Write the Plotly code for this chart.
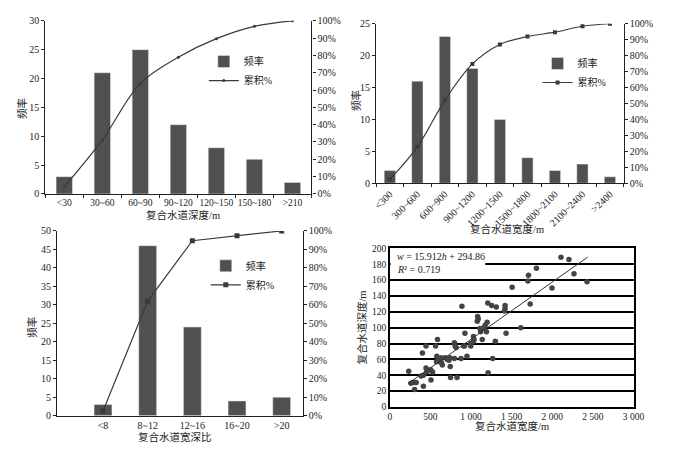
import plotly.graph_objects as go

# ---------------- data ----------------
depth_cats = ["<30", "30~60", "60~90", "90~120", "120~150", "150~180", ">210"]
depth_freq = [3, 21, 25, 12, 8, 6, 2]
depth_cum = [0.041, 0.312, 0.639, 0.79, 0.897, 0.968, 1.0]

width_cats = ["<300", "300~600", "600~900", "900~1200", "1200~1500",
              "1500~1800", "1800~2100", "2100~2400", ">2400"]
width_freq = [2, 16, 23, 18, 10, 4, 2, 3, 1]
width_cum = [0.024, 0.228, 0.52, 0.748, 0.87, 0.92, 0.947, 0.984, 1.0]

ratio_cats = ["<8", "8~12", "12~16", "16~20", ">20"]
ratio_freq = [3, 46, 24, 4, 5]
ratio_cum = [0.025, 0.62, 0.947, 0.974, 1.0]

scatter_w = [233, 260, 285, 310, 325, 305, 402, 414, 446, 386, 414, 446, 474, 503, 527,
             454, 507, 563, 587, 579, 595, 575, 615, 635, 647, 635, 684, 708, 728, 740,
             744, 748, 796, 796, 804, 816, 828, 877, 888, 909, 921, 925, 950, 997, 997,
             1029, 1037, 1029, 1081, 1089, 1077, 1110, 1118, 1138, 1158, 1174, 1190, 1198,
             1206, 1210, 1254, 1266, 1299, 1311, 1419, 1419, 1411, 1431, 1506, 1612, 1707,
             1700, 1728, 1805, 1997, 2107, 2205, 2267, 2428]
scatter_h = [45, 30, 31, 31, 31, 22, 68, 26, 77, 39, 40, 49, 46, 47, 44,
             44, 34, 77, 85, 64, 59, 57, 57, 56, 53, 62, 62, 60, 59, 62,
             51, 37, 61, 81, 77, 75, 37, 61, 127, 77, 77, 93, 64, 77, 80,
             89, 85, 83, 114, 111, 108, 99, 95, 85, 100, 103, 95, 107,
             131, 43, 128, 61, 83, 126, 128, 124, 121, 93, 151, 100, 166,
             159, 130, 175, 150, 189, 186, 168, 158]
trend_w = [225, 2436]
trend_h = [29.5, 189]

x4_tickvals = [0, 500, 1000, 1500, 2000, 2500, 3000]
x4_ticktext = ["0", "500", "1 000", "1 500", "2 000", "2 500", "3 000"]

# ---------------- styling ----------------
FONT = "Liberation Serif, Noto Sans CJK SC, serif"
BAR = "#505050"
LINE = "#3a3a3a"
OFF = 8            # page body margin
W, H = 676 - 2 * OFF, 455 - 2 * OFF


def px(x):
    return (x - OFF) / W


def py(y):
    return 1 - (y - OFF) / H


fig = go.Figure()

# Panel 1
fig.add_trace(go.Bar(x=depth_cats, y=depth_freq, width=0.43, marker_color=BAR,
                     name="频率", xaxis="x", yaxis="y", legend="legend"))
fig.add_trace(go.Scatter(x=depth_cats, y=depth_cum, mode="lines+markers", name="累积%",
                         line=dict(color=LINE, width=1.2, shape="spline"),
                         marker=dict(size=3, color=LINE),
                         xaxis="x", yaxis="y2", legend="legend"))
# Panel 2
fig.add_trace(go.Bar(x=width_cats, y=width_freq, width=0.41, marker_color=BAR,
                     name="频率", xaxis="x2", yaxis="y3", legend="legend2"))
fig.add_trace(go.Scatter(x=width_cats, y=width_cum, mode="lines+markers", name="累积%",
                         line=dict(color=LINE, width=1.2, shape="spline"),
                         marker=dict(size=4, color=LINE, symbol="square"),
                         xaxis="x2", yaxis="y4", legend="legend2"))
# Panel 3
fig.add_trace(go.Bar(x=ratio_cats, y=ratio_freq, width=0.4, marker_color=BAR,
                     name="频率", xaxis="x3", yaxis="y5", legend="legend3"))
fig.add_trace(go.Scatter(x=ratio_cats, y=ratio_cum, mode="lines+markers", name="累积%",
                         line=dict(color=LINE, width=1.2),
                         marker=dict(size=5, color=LINE, symbol="square"),
                         xaxis="x3", yaxis="y6", legend="legend3"))
# Panel 4
fig.add_trace(go.Scatter(x=scatter_w, y=scatter_h, mode="markers",
                         marker=dict(size=5.5, color="#444444"), showlegend=False,
                         xaxis="x4", yaxis="y7"))
fig.add_trace(go.Scatter(x=trend_w, y=trend_h, mode="lines",
                         line=dict(color="#333333", width=1), showlegend=False,
                         xaxis="x4", yaxis="y7"))

tickfont = dict(family=FONT, size=10, color="#222")
base_axis = dict(showgrid=False, zeroline=False, showline=True, linecolor="#222",
                 linewidth=1.2, ticks="outside", ticklen=3, tickcolor="#222",
                 tickfont=tickfont)

cat_axis = dict(base_axis, type="category", tickson="boundaries", ticklen=3)

fig.update_layout(
    width=W, height=H, margin=dict(l=0, r=0, t=0, b=0),
    paper_bgcolor="white", plot_bgcolor="white",
    font=dict(family=FONT, size=10, color="#222"),
    # panel 1
    xaxis=dict(cat_axis, domain=[px(43), px(315)], anchor="y", range=[-0.5, 6.5],
               tickangle=0, tickfont=dict(family=FONT, size=9.5, color="#222")),
    yaxis=dict(base_axis, domain=[py(193), py(15)], anchor="x", range=[0, 30], dtick=5),
    yaxis2=dict(base_axis, overlaying="y", side="right", anchor="x", range=[0, 1],
                dtick=0.1, tickformat=".0%"),
    # panel 2
    xaxis2=dict(cat_axis, domain=[px(381), px(634)], anchor="y3", range=[-0.5, 8.5],
                tickangle=-45),
    yaxis3=dict(base_axis, domain=[py(182), py(18)], anchor="x2", range=[0, 25], dtick=5),
    yaxis4=dict(base_axis, overlaying="y3", side="right", anchor="x2", range=[0, 1],
                dtick=0.1, tickformat=".0%"),
    # panel 3
    xaxis3=dict(base_axis, type="category", ticks="", domain=[px(55), px(306)],
                anchor="y5", range=[-1.03, 4.47], tickangle=0),
    yaxis5=dict(base_axis, domain=[py(421), py(231)], anchor="x3", range=[0, 50], dtick=5),
    yaxis6=dict(base_axis, overlaying="y5", side="right", anchor="x3", range=[0, 1],
                dtick=0.1, tickformat=".0%"),
    # panel 4
    xaxis4=dict(base_axis, domain=[px(395), px(644)], anchor="y7", range=[0, 3000],
                tickvals=x4_tickvals, ticktext=x4_ticktext, mirror=True, ticks="",
                linecolor="black", linewidth=1.5, tickfont=dict(family=FONT, size=9.5)),
    yaxis7=dict(base_axis, domain=[py(412), py(249)], anchor="x4", range=[0, 200],
                dtick=20, mirror=True, linecolor="black", linewidth=1.5, ticks="",
                showgrid=True, gridcolor="black", gridwidth=1.5,
                tickfont=dict(family=FONT, size=9.5)),
    legend=dict(x=px(205), y=py(42), xanchor="left", yanchor="top",
                bgcolor="rgba(0,0,0,0)", font=dict(family=FONT, size=10),
                tracegroupgap=0, itemwidth=30),
    legend2=dict(x=px(546), y=py(44), xanchor="left", yanchor="top",
                 bgcolor="rgba(0,0,0,0)", font=dict(family=FONT, size=10),
                 tracegroupgap=0, itemwidth=30),
    legend3=dict(x=px(207), y=py(252), xanchor="left", yanchor="top",
                 bgcolor="rgba(0,0,0,0)", font=dict(family=FONT, size=10),
                 tracegroupgap=0, itemwidth=30),
    showlegend=True,
)

# white box behind the equation that hides part of the gridline
fig.add_shape(type="rect", xref="x4", yref="y7", x0=10, x1=1175, y0=170, y1=192,
              fillcolor="white", line=dict(width=0), layer="between")

title_font = dict(family=FONT, size=10.5, color="#222")
annots = [
    dict(text="复合水道深度/m", x=px(184), y=py(215), textangle=0),
    dict(text="频率", x=px(20), y=py(105), textangle=-90),
    dict(text="复合水道宽度/m", x=px(515), y=py(229), textangle=0),
    dict(text="频率", x=px(360), y=py(97), textangle=-90),
    dict(text="复合水道宽深比", x=px(176), y=py(443), textangle=0),
    dict(text="频率", x=px(30), y=py(330), textangle=-90),
    dict(text="复合水道宽度/m", x=px(520), y=py(432), textangle=0),
    dict(text="复合水道深度/m", x=px(367), y=py(330), textangle=-90),
]
for a in annots:
    fig.add_annotation(xref="paper", yref="paper", showarrow=False,
                       font=title_font, xanchor="center", yanchor="middle", **a)

fig.add_annotation(xref="x4", yref="y7", x=70, y=190, xanchor="left", yanchor="middle",
                   showarrow=False, text="<i>w</i> = 15.912<i>h</i> + 294.86",
                   font=dict(family=FONT, size=10, color="#222"))
fig.add_annotation(xref="x4", yref="y7", x=70, y=173, xanchor="left", yanchor="middle",
                   showarrow=False, text="<i>R</i>² = 0.719",
                   font=dict(family=FONT, size=10, color="#222"))

fig.write_html("out.html")
